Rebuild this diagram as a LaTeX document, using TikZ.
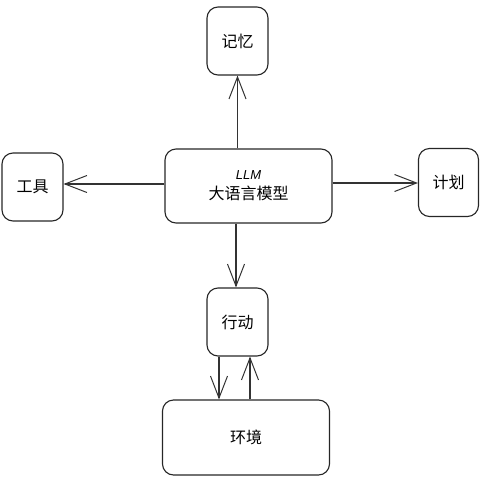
\documentclass[tikz,border=0pt]{standalone}
\usepackage{fontspec}
\setmainfont{Liberation Sans}
\newfontfamily\cjk{Noto Sans CJK SC}
\usetikzlibrary{arrows.meta}
\begin{document}
\begin{tikzpicture}[x=1pt,y=-1pt,
  box/.style={draw=black!85, line width=1.1pt, rounded corners=11pt, inner sep=0pt, font=\cjk\fontsize{16}{20}\selectfont, align=center},
  arr/.style={draw=black!80, line width=1.1pt, -{Straight Barb[length=22pt,width=17pt,line width=1pt]}}]
\useasboundingbox (0,0) rectangle (480,480);
\node[box, minimum width=61pt, minimum height=68pt] (mem) at (237.5,41) {记忆};
\node[box, minimum width=61pt, minimum height=68pt] (tool) at (32.5,187) {工具};
\node[box, minimum width=167pt, minimum height=74pt] (llm) at (248.5,186) {{\fontspec{Liberation Sans}\itshape\fontsize{13}{15}\selectfont LLM}\\[0pt]大语言模型};
\node[box, minimum width=60pt, minimum height=68pt] (plan) at (448.5,182.5) {计划};
\node[box, minimum width=61pt, minimum height=68pt] (act) at (237.5,322) {行动};
\node[box, minimum width=167pt, minimum height=75pt] (env) at (246,437.5) {环境};
\draw[arr] (llm.north -| mem) -- (mem.south);
\draw[arr] (llm.west |- 0,184) -- (tool.east |- 0,184);
\draw[arr] (llm.east |- 0,183) -- (plan.west |- 0,183);
\draw[arr] ([xshift=-1.5pt]llm.south -| act) -- ([xshift=-1.5pt]act.north);
\draw[arr] ([xshift=-18.5pt]act.south) -- ([xshift=-18.5pt]act.south |- env.north);
\draw[arr] ([xshift=12.5pt]act.south |- env.north) -- ([xshift=12.5pt]act.south);
\end{tikzpicture}
\end{document}
